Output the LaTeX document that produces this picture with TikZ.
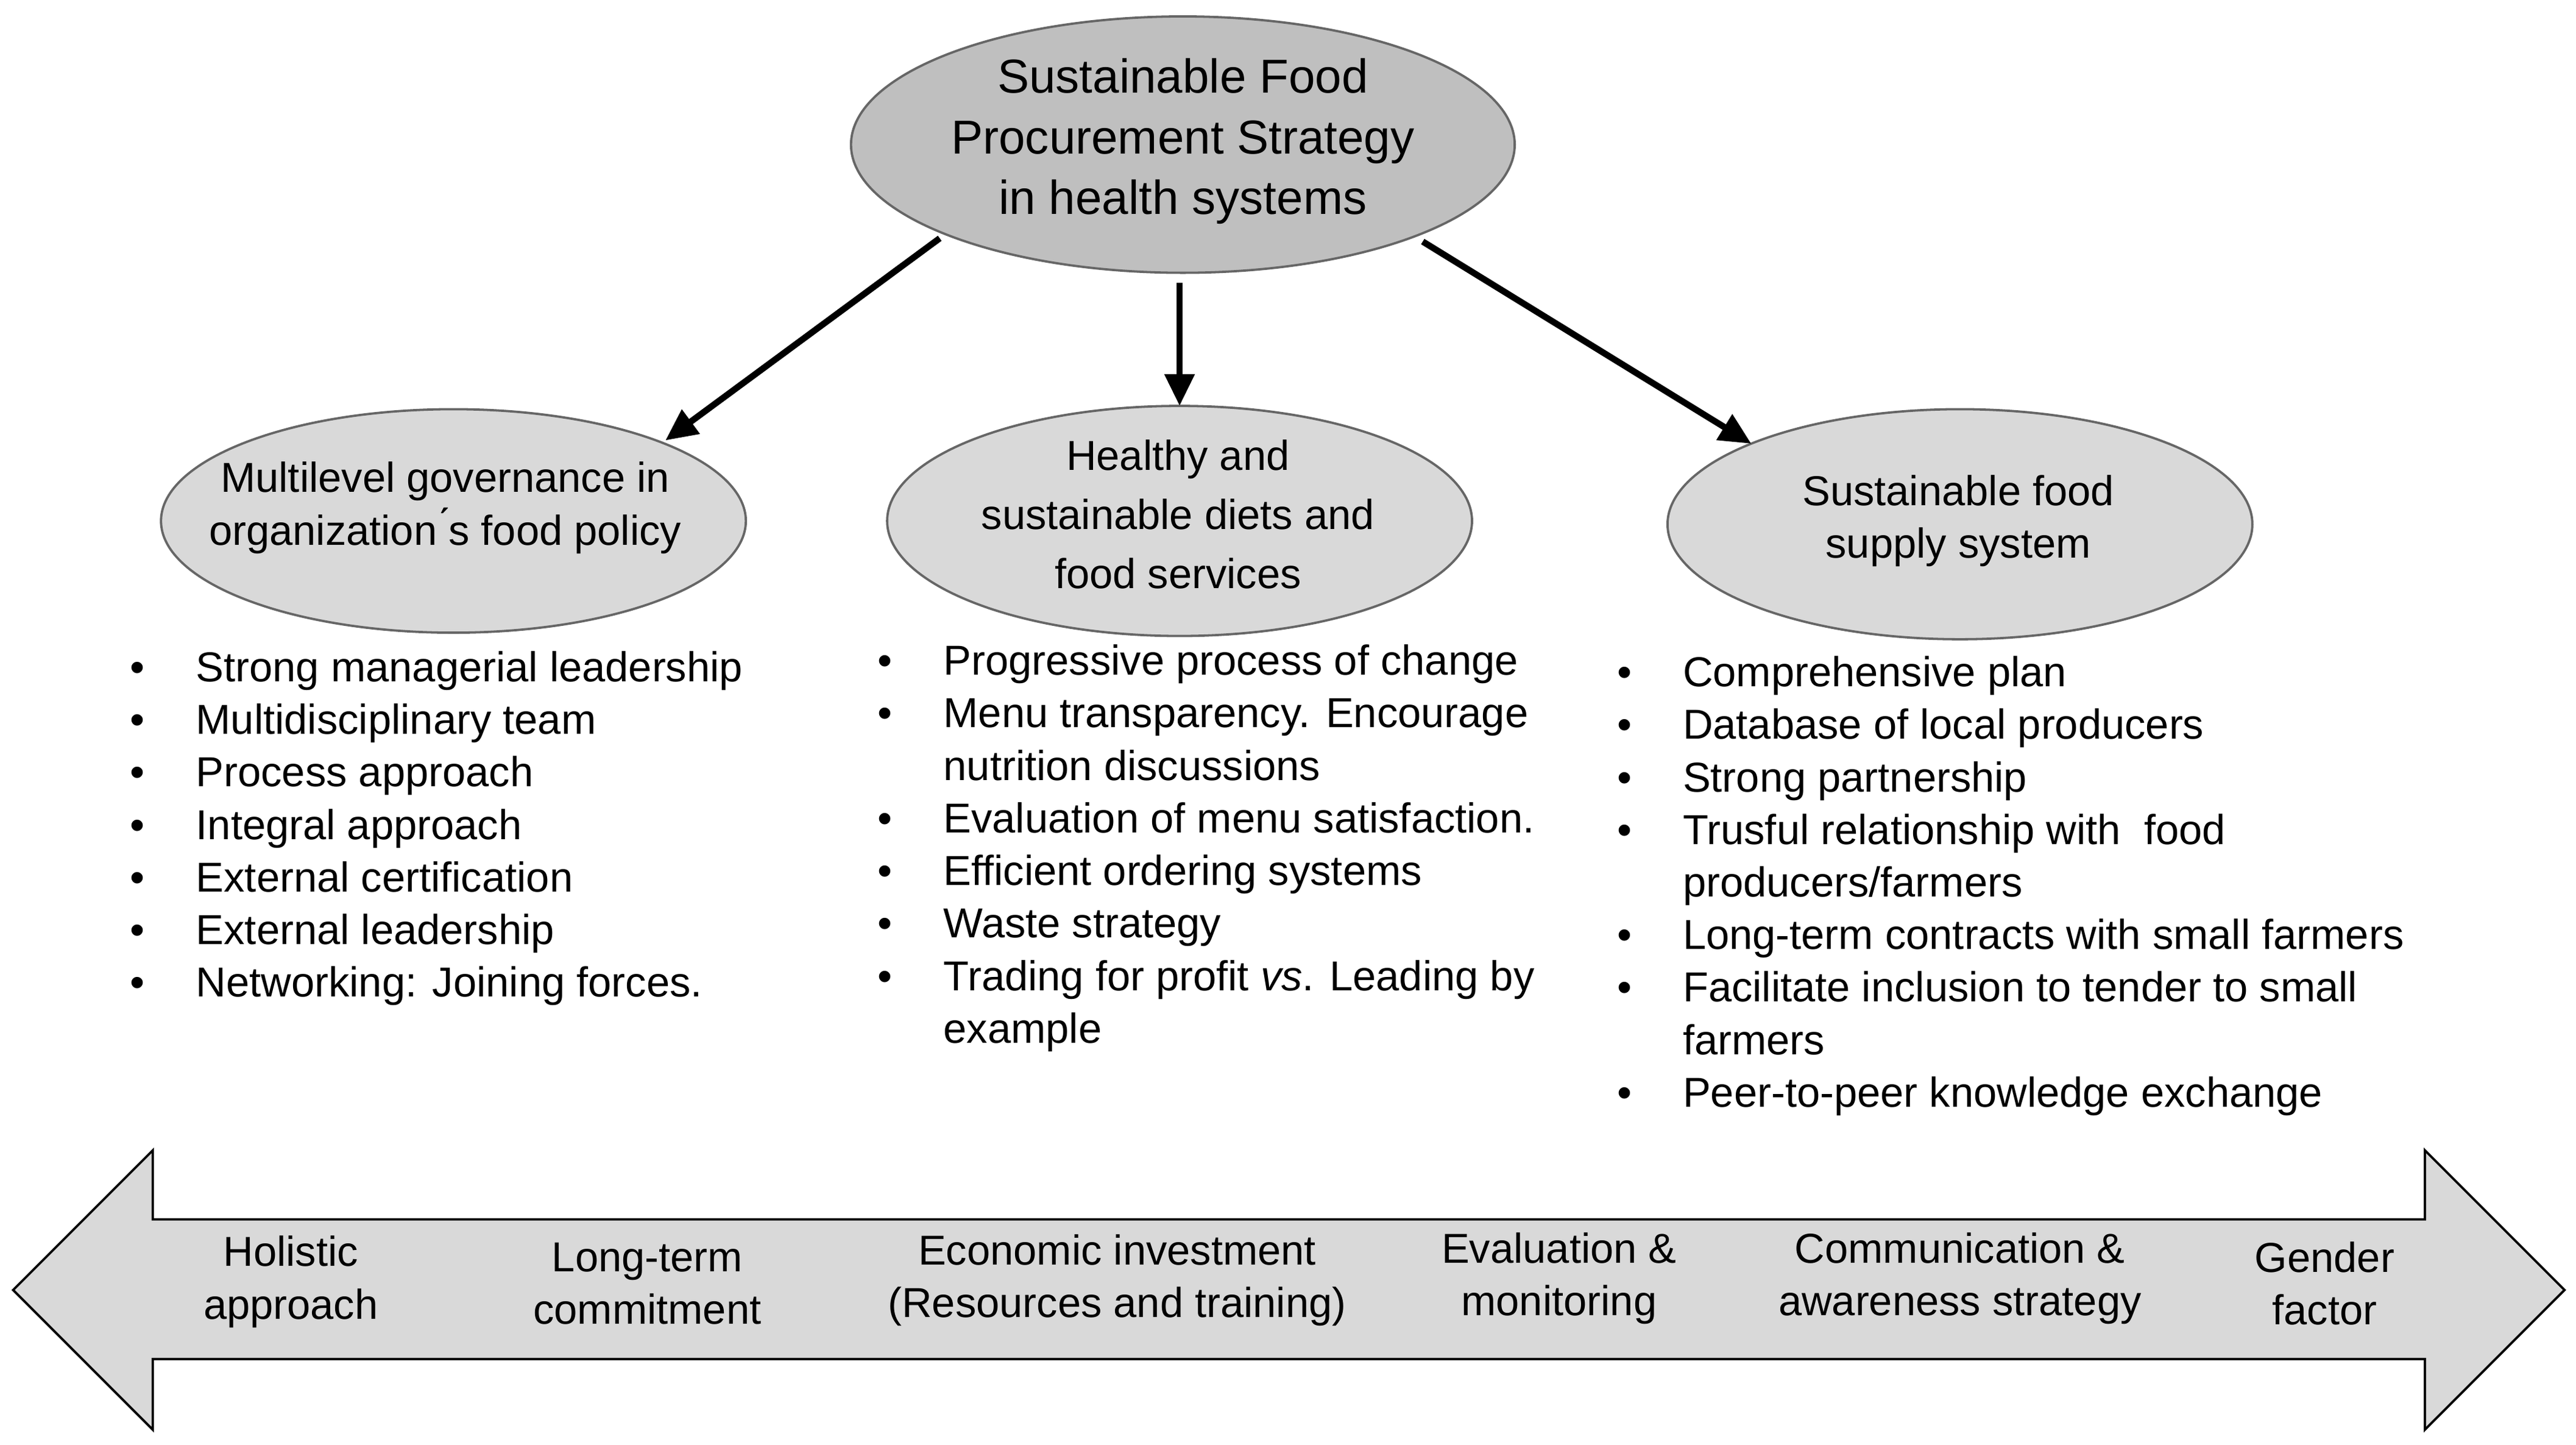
\documentclass[tikz,border=0pt]{standalone}
\usepackage{fontspec}
\setmainfont{Liberation Sans}
\usetikzlibrary{arrows.meta}
\definecolor{topgray}{HTML}{BFBFBF}
\definecolor{lightgray}{HTML}{D9D9D9}
\tikzset{
  ell/.style={draw=black!60, line width=0.8pt, fill=lightgray},
  conn/.style={line width=2.2pt, -{Triangle[length=11pt,width=10pt]}},
  lbl/.style={align=center, font=\fontsize{14.5}{16.5}\selectfont},
  list/.style={anchor=north west, inner sep=0pt, align=left, font=\fontsize{14.5}{18.2}\selectfont}
}
\newcommand{\bl}{\makebox[0.78cm][l]{\hspace{-0.02cm}•}}
\newcommand{\nb}{\makebox[0.78cm][l]{}}
\begin{document}
\begin{tikzpicture}[x=0.02cm,y=-0.02cm]
\useasboundingbox (0,0) rectangle (1568,879);
% ellipses
\filldraw[ell, fill=topgray] (720,88) ellipse [x radius=202, y radius=78];
\node[lbl, font=\fontsize{16.5}{21}\selectfont] (top) at (720,86) {Sustainable Food\\Procurement Strategy\\in health systems};
\coordinate (topL) at (572,145);
\coordinate (topM) at (718,172);
\coordinate (topR) at (866,147);
\filldraw[ell] (276,317) ellipse [x radius=178, y radius=68];
\node[lbl, font=\fontsize{14.5}{18.2}\selectfont] (gov) at (271,309) {Multilevel governance in\\organization\'{}s food policy};
\filldraw[ell] (718,317) ellipse [x radius=178, y radius=70];
\node[lbl, font=\fontsize{14.5}{20.5}\selectfont] (diet) at (717,313) {Healthy and\\sustainable diets and\\food services};
\filldraw[ell] (1193,319) ellipse [x radius=178, y radius=70];
\node[lbl, font=\fontsize{14.5}{18.2}\selectfont] (supply) at (1192,317) {Sustainable food\\supply system};
\coordinate (govT) at (405,268);
\coordinate (dietT) at (718,247);
\coordinate (supT) at (1066,270);
\draw[conn] (topL) -- (govT);
\draw[conn] (topM) -- (dietT);
\draw[conn] (topR) -- (supT);
% lists
\node[list] (l1) at (80,396) {\bl Strong managerial leadership\\\bl Multidisciplinary team\\\bl Process approach\\\bl Integral approach\\\bl External certification\\\bl External leadership\\\bl Networking: Joining forces.};
\node[list] (l2) at (535,392) {\bl Progressive process of change\\\bl Menu transparency. Encourage\\\nb nutrition discussions\\\bl Evaluation of menu satisfaction.\\\bl Efficient ordering systems\\\bl Waste strategy\\\bl Trading for profit \textit{vs}. Leading by\\\nb example};
\node[list] (l3) at (985,399) {\bl Comprehensive plan\\\bl Database of local producers\\\bl Strong partnership\\\bl Trusful relationship with~ food\\\nb producers/farmers\\\bl Long-term contracts with small farmers\\\bl Facilitate inclusion to tender to small\\\nb farmers\\\bl Peer-to-peer knowledge exchange};
% big double arrow
\filldraw[draw=black, line width=0.8pt, fill=lightgray] (8,785) -- (93,700) -- (93,742) -- (1476,742) -- (1476,700) -- (1561,785) -- (1476,870) -- (1476,827) -- (93,827) -- (93,870) -- cycle;
\node[lbl, font=\fontsize{14.5}{18.2}\selectfont] (b1) at (177,780) {Holistic\\approach};
\node[lbl, font=\fontsize{14.5}{18.2}\selectfont] (b2) at (394,781) {Long-term\\commitment};
\node[lbl, font=\fontsize{14.5}{18.2}\selectfont] (b3) at (680,779) {Economic investment\\(Resources and training)};
\node[lbl, font=\fontsize{14.5}{18.2}\selectfont] (b4) at (949,778) {Evaluation \&\\monitoring};
\node[lbl, font=\fontsize{14.5}{18.2}\selectfont] (b5) at (1193,778) {Communication \&\\awareness strategy};
\node[lbl, font=\fontsize{14.5}{18.2}\selectfont] (b6) at (1415,781) {Gender\\factor};
\end{tikzpicture}
\end{document}
